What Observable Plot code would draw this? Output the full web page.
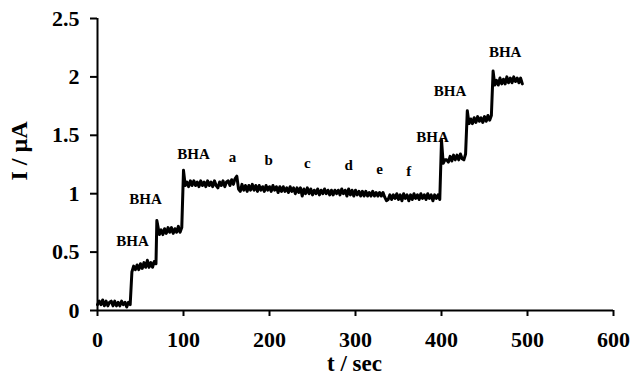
<!DOCTYPE html>
<html>
<head>
<meta charset="utf-8">
<script src="https://cdn.jsdelivr.net/npm/d3@7"></script>
<script src="https://cdn.jsdelivr.net/npm/@observablehq/plot@0.6"></script>
<style>
  html, body { margin: 0; padding: 0; background: #fff; }
  #chart { width: 634px; height: 376px; }
</style>
</head>
<body>
<div id="chart"></div>
<script>
// Time (s) of each sample
const time = [
  0,2,4,6,8,10,12,14,16,18,20,22,24,26,28,30,32,34,36,38,
  40,42,44,46,48,50,52,54,56,58,60,62,64,66,68,
  69,72,74,76,78,80,82,84,86,88,90,92,94,96,98,
  100,102,104,106,108,110,112,114,116,118,120,122,124,126,128,130,132,134,136,138,
  140,142,144,146,148,150,152,154,156,158,160,162,164,166,168,170,172,174,176,178,
  180,182,184,186,188,190,192,194,196,198,200,202,204,206,208,210,212,214,216,218,
  220,222,224,226,228,230,232,234,236,238,240,242,244,246,248,250,252,254,256,258,
  260,262,264,266,268,270,272,274,276,278,280,282,284,286,288,290,292,294,296,298,
  300,302,304,306,308,310,312,314,316,318,320,322,324,326,328,330,332,334,336,338,
  340,342,344,346,348,350,352,354,356,358,360,362,364,366,368,370,372,374,376,378,
  380,382,384,386,388,390,392,394,396,398,
  400,402,404,406,408,410,412,414,416,418,420,422,424,426,428,
  430,432,434,436,438,440,442,444,446,448,450,452,454,456,458,
  460,462,464,466,468,470,472,474,476,478,480,482,484,486,488,490,492,494
];
// Current (µA) of each sample
const current = [
  0.05,0.08,0.05,0.09,0.04,0.08,0.04,0.07,0.08,0.04,0.08,0.04,0.07,0.04,0.08,0.05,0.07,0.03,0.07,0.05,
  0.33,0.38,0.35,0.39,0.35,0.40,0.36,0.41,0.37,0.43,0.37,0.41,0.37,0.42,0.40,
  0.77,0.65,0.69,0.65,0.70,0.66,0.71,0.67,0.71,0.66,0.70,0.67,0.72,0.67,0.71,
  1.20,1.07,1.10,1.06,1.11,1.07,1.11,1.07,1.10,1.06,1.11,1.07,1.10,1.06,1.11,1.07,1.10,1.06,1.11,1.07,
  1.05,1.10,1.07,1.11,1.06,1.10,1.11,1.07,1.12,1.08,1.13,1.15,1.04,1.02,1.08,1.03,1.07,1.02,1.07,1.03,
  1.08,1.03,1.07,1.02,1.07,1.03,1.06,1.02,1.07,1.03,1.06,1.02,1.07,1.03,1.06,1.01,1.06,1.02,1.06,1.02,
  1.05,1.01,1.06,1.02,1.05,1.00,1.05,1.01,1.05,0.98,1.04,1.00,1.05,1.00,1.04,0.99,1.03,1.00,1.04,0.99,
  1.03,1.00,1.04,1.00,1.03,0.99,1.03,0.99,1.03,1.00,1.03,0.99,1.04,1.00,1.03,0.98,1.04,0.99,1.03,0.98,
  1.03,0.99,1.02,0.98,1.02,0.98,1.02,0.98,1.01,0.98,1.02,0.98,1.01,0.98,1.01,0.98,1.01,0.97,0.94,0.95,
  0.99,0.95,0.99,0.96,1.00,0.95,0.99,0.94,1.00,0.96,0.99,0.94,0.99,0.95,1.00,0.96,0.99,0.95,1.00,0.96,
  0.99,0.95,1.00,0.96,0.99,0.94,0.99,0.96,0.99,0.95,
  1.46,1.26,1.29,1.29,1.27,1.32,1.28,1.33,1.29,1.33,1.29,1.34,1.30,1.29,1.34,
  1.71,1.60,1.64,1.60,1.65,1.61,1.66,1.62,1.65,1.61,1.66,1.62,1.67,1.63,1.67,
  2.05,1.93,1.97,1.93,1.99,1.94,1.98,1.94,2.00,1.95,1.99,1.95,2.00,1.96,1.99,1.95,1.99,1.94
];
// Annotation labels
const labelText = ["BHA","BHA","BHA","a","b","c","d","e","f","BHA","BHA","BHA"];
const labelTime = [40.7, 55.8, 111.6, 157, 199, 244, 292, 328, 362, 389.5, 410, 474];
const labelCurrent = [0.59, 0.95, 1.34, 1.31, 1.29, 1.26, 1.24, 1.21, 1.19, 1.48, 1.88, 2.21];
const xTicks = [0, 100, 200, 300, 400, 500, 600];
const yTicks = [0, 0.5, 1, 1.5, 2, 2.5];

const trace = time.map((t, i) => ({t, i: current[i]}));
const labels = labelText.map((s, k) => ({s, t: labelTime[k], v: labelCurrent[k]}));

const chart = Plot.plot({
  width: 634,
  height: 376,
  marginLeft: 97,
  marginRight: 21,
  marginTop: 18,
  marginBottom: 66,
  style: {fontFamily: "'Liberation Serif', 'Times New Roman', serif", fontWeight: "bold", fontSize: "22px", color: "#000", background: "#fff"},
  x: {domain: [0, 600]},
  y: {domain: [0, 2.5]},
  marks: [
    Plot.axisX({ticks: xTicks, tickSize: 6, tickPadding: 15, strokeWidth: 2, label: null, tickFormat: d => String(d)}),
    Plot.axisY({ticks: yTicks, tickSize: 7, tickPadding: 11, strokeWidth: 2, label: null, tickFormat: d => String(d)}),
    Plot.ruleY([0], {strokeWidth: 2}),
    Plot.ruleX([0], {strokeWidth: 2}),
    Plot.line(trace, {x: "t", y: "i", stroke: "#000", strokeWidth: 3}),
    Plot.text(labels, {x: "t", y: "v", text: "s", fontSize: 15, fontWeight: "bold", fill: "#000"}),
    Plot.text(["t / sec"], {frameAnchor: "bottom", dx: -1, dy: 60, fontSize: 23, fontWeight: "bold", fill: "#000"}),
    Plot.text(["I / µA"], {frameAnchor: "left", dx: -78, dy: 16, rotate: -90, fontSize: 24, fontWeight: "bold", fill: "#000"})
  ]
});
document.getElementById("chart").appendChild(chart);
</script>
</body>
</html>
